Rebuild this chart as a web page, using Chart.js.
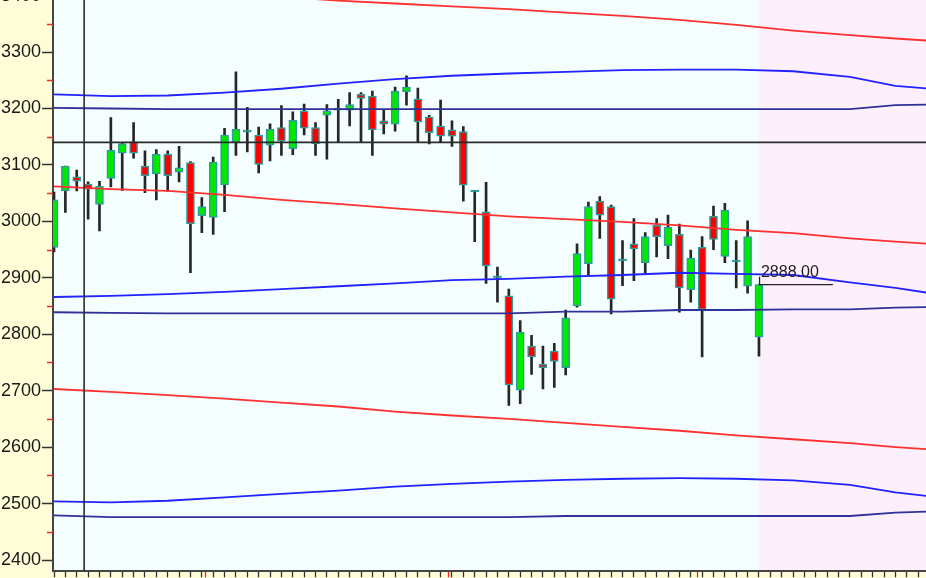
<!DOCTYPE html>
<html>
<head>
<meta charset="utf-8">
<script src="https://cdn.jsdelivr.net/npm/chart.js@4.4.1/dist/chart.umd.min.js"></script>
<style>
  html, body { margin: 0; padding: 0; background: #fffdd8; overflow: hidden; width: 926px; height: 578px; }
  #wrap { position: absolute; left: 0; top: -24px; width: 926px; height: 610px; }
</style>
</head>
<body>
<div id="wrap"><canvas id="chart" width="926" height="610"></canvas></div>
<script>
// === DONNEES BOUGIES ===
const opens  = [2954, 3054, 3079, 3066, 3030, 3076, 3121, 3141, 3098, 3084, 3119, 3087, 3104,
                3010, 3007, 3065, 3140, 3158, 3153, 3135, 3166, 3129, 3196, 3166, 3188, 3197,
                3197, 3225, 3222, 3178, 3172, 3230, 3217, 3185, 3169, 3162, 3159, 3052, 3017,
                2900, 2868, 2701, 2779, 2747, 2770, 2741, 2850, 2925, 3036, 3026, 2930, 2960,
                2927, 2993, 2957, 2977, 2879, 2954, 3009, 2938, 2928, 2885, 2795];
const highs  = [3052, 3098, 3091, 3070, 3071, 3184, 3140, 3175, 3125, 3127, 3125, 3133, 3106,
                3042, 3114, 3165, 3265, 3202, 3167, 3173, 3205, 3194, 3208, 3175, 3207, 3216,
                3228, 3228, 3231, 3197, 3238, 3258, 3236, 3188, 3215, 3178, 3168, 3055, 3069,
                2919, 2880, 2824, 2798, 2779, 2784, 2843, 2960, 3034, 3044, 3029, 2966, 3005,
                2980, 3005, 3011, 2995, 2949, 2973, 3027, 3032, 2966, 3001, 2888];
const lows   = [2946, 3016, 3054, 3004, 2983, 3061, 3055, 3112, 3051, 3038, 3053, 3070, 2909,
                2980, 2977, 3017, 3117, 3123, 3086, 3107, 3117, 3118, 3153, 3117, 3110, 3141,
                3169, 3141, 3117, 3155, 3160, 3206, 3141, 3137, 3141, 3133, 3036, 2964, 2890,
                2857, 2674, 2677, 2729, 2703, 2706, 2728, 2848, 2905, 2970, 2836, 2886, 2895,
                2908, 2937, 2934, 2839, 2857, 2760, 2950, 2927, 2882, 2873, 2761];
const closes = [3038, 3098, 3071, 3057, 3062, 3126, 3138, 3121, 3081, 3119, 3081, 3095, 2996,
                3026, 3105, 3153, 3163, 3158, 3101, 3163, 3142, 3179, 3165, 3137, 3196, 3197,
                3207, 3218, 3162, 3172, 3231, 3238, 3176, 3157, 3151, 3151, 3064, 3052, 2921,
                2900, 2710, 2804, 2760, 2741, 2752, 2829, 2943, 3026, 3011, 2862, 2930, 2951,
                2973, 2973, 2990, 2882, 2935, 2844, 2968, 3020, 2928, 2973, 2888];
const lastClose = 2888;

// === BANDES (valeurs lues par index de bougie) ===
const bandX      = [0, 5, 10, 15, 20, 25, 30, 35, 40, 45, 50, 55, 60, 65, 70, 74, 77];
const upperRed   = [3420, 3415, 3410, 3404, 3398, 3391, 3386, 3381, 3376, 3370, 3364, 3357, 3348, 3338, 3330, 3324, 3320];
const upperBlue  = [3225, 3222, 3223, 3228, 3235, 3244, 3252, 3258, 3262, 3265, 3268, 3269, 3269, 3266, 3256, 3240, 3235];
const upperNavy  = [3201, 3200, 3199, 3199, 3199, 3199, 3199, 3199, 3199, 3199, 3199, 3199, 3199, 3199, 3199, 3206, 3207];
const midRed     = [3062, 3057, 3054, 3047, 3038, 3031, 3023, 3016, 3009, 3004, 2999, 2993, 2985, 2979, 2970, 2964, 2960];
const midBlue    = [2866, 2868, 2871, 2875, 2880, 2885, 2890, 2896, 2898, 2902, 2905, 2909, 2907, 2905, 2892, 2882, 2873];
const midNavy    = [2839, 2838, 2837, 2837, 2837, 2837, 2837, 2837, 2837, 2840, 2840, 2843, 2843, 2844, 2844, 2847, 2848];
const lowerRed   = [2703, 2698, 2692, 2686, 2679, 2672, 2663, 2656, 2650, 2643, 2636, 2629, 2621, 2614, 2607, 2600, 2596];
const lowerBlue  = [2504, 2502, 2505, 2511, 2517, 2523, 2530, 2535, 2539, 2542, 2544, 2545, 2544, 2541, 2533, 2520, 2513];
const lowerNavy  = [2479, 2476, 2476, 2476, 2476, 2476, 2476, 2476, 2476, 2478, 2478, 2478, 2478, 2478, 2478, 2484, 2486];

// === LIGNES ET AXES ===
const hLineLevel = 3140;
const vLineIdx = 2.65;
const futureFrom = 62;
const closeLineEnd = 68.5;
const yTicks = [2400, 2500, 2600, 2700, 2800, 2900, 3000, 3100, 3200, 3300, 3400];
const yMinor = [2450, 2550, 2650, 2750, 2850, 2950, 3050, 3150, 3250, 3350];
const xTicks = Array.from({length: 77}, (_, i) => i);
const xRedTicks = [13.3, 34.7, 56.6];
const xMin = -0.088, xMax = 76.69, yMin = 2380, yMax = 3400;

const GREEN = "#00e800", RED = "#ff0000", TEAL = "#2f9c9c";
const BLUE = "#2222ff", NAVY = "#30309a", REDLINE = "#ff3030";

const idx = closes.map((_, i) => i);
const bodyColors = idx.map(i => closes[i] > opens[i] ? GREEN : closes[i] < opens[i] ? RED : TEAL);

function band(values, color) {
  return {
    type: "line",
    data: bandX.map((x, i) => ({x, y: values[i]})),
    borderColor: color,
    borderWidth: 1.8,
    pointRadius: 0,
    tension: 0,
    order: 1
  };
}

const bgPlugin = {
  id: "bg",
  beforeDraw(chart) {
    const {ctx, chartArea: a, scales: {x}} = chart;
    ctx.save();
    ctx.fillStyle = "#fffdd8";
    ctx.fillRect(0, 0, chart.width, chart.height);
    ctx.fillStyle = "#f4fefe";
    ctx.fillRect(a.left, a.top, a.width, a.height);
    const fx = x.getPixelForValue(futureFrom);
    ctx.fillStyle = "#fdf0fc";
    ctx.fillRect(fx, a.top, a.right - fx, a.height);
    ctx.restore();
  },
  afterDatasetsDraw(chart) {
    const {ctx, scales: {x, y}} = chart;
    ctx.save();
    ctx.font = "16px 'Liberation Sans', Arial, sans-serif";
    ctx.fillStyle = "#222";
    ctx.textBaseline = "middle";
    ctx.fillText(lastClose.toFixed(2), x.getPixelForValue(futureFrom) + 2, y.getPixelForValue(lastClose) - 12);
    ctx.restore();
  },
  afterDraw(chart) {
    const {ctx, chartArea: a, scales: {y}} = chart;
    ctx.save();
    ctx.strokeStyle = "#e03030";
    ctx.lineWidth = 1.5;
    yMinor.forEach(v => {
      const py = Math.round(y.getPixelForValue(v)) + 0.5;
      ctx.beginPath();
      ctx.moveTo(a.left - 6, py);
      ctx.lineTo(a.left, py);
      ctx.stroke();
    });
    ctx.restore();
  }
};

new Chart(document.getElementById("chart"), {
  type: "bar",
  data: {
    datasets: [
      band(upperRed, REDLINE), band(upperBlue, BLUE), band(upperNavy, NAVY),
      band(midRed, REDLINE), band(midBlue, BLUE), band(midNavy, NAVY),
      band(lowerRed, REDLINE), band(lowerBlue, BLUE), band(lowerNavy, NAVY),
      {
        type: "line",
        data: [{x: xMin, y: hLineLevel}, {x: xMax, y: hLineLevel}],
        borderColor: "#2a2a2a", borderWidth: 1.8, pointRadius: 0, order: 0
      },
      {
        type: "line",
        data: [{x: vLineIdx, y: yMin}, {x: vLineIdx, y: yMax}],
        borderColor: "#2a2a2a", borderWidth: 1.6, pointRadius: 0, order: 0
      },
      {
        type: "line",
        data: [{x: futureFrom + 0.05, y: lastClose + 14}, {x: futureFrom + 0.05, y: lastClose}, {x: closeLineEnd, y: lastClose}],
        borderColor: "#222", borderWidth: 1.3, pointRadius: 0, order: 0
      },
      {
        data: idx.map(i => ({x: i, y: [opens[i], closes[i]]})),
        backgroundColor: bodyColors,
        borderColor: TEAL,
        borderWidth: 1.5,
        borderSkipped: false,
        barThickness: 8,
        minBarLength: 2,
        grouped: false,
        order: 2
      },
      {
        data: idx.map(i => ({x: i, y: [lows[i], highs[i]]})),
        backgroundColor: "#262626",
        barThickness: 2,
        grouped: false,
        order: 3
      }
    ]
  },
  options: {
    responsive: false,
    animation: false,
    layout: {padding: {top: 19.6, left: 0, right: 0, bottom: 0}},
    plugins: {legend: {display: false}, tooltip: {enabled: false}},
    scales: {
      x: {
        type: "linear",
        min: xMin, max: xMax,
        offset: false,
        afterBuildTicks: s => { s.ticks = xTicks.concat(xRedTicks).map(v => ({value: v})); },
        afterFit: s => { s.height = 14.7; },
        ticks: {display: false},
        grid: {
          offset: false,
          drawOnChartArea: false,
          tickLength: 6,
          tickWidth: 1.3,
          tickColor: c => xRedTicks.includes(c.tick && c.tick.value) ? "#ff2020" : "#333"
        },
        border: {color: "#444", width: 2}
      },
      y: {
        type: "linear",
        position: "left",
        min: yMin, max: yMax,
        afterBuildTicks: s => { s.ticks = yTicks.map(v => ({value: v})); },
        afterFit: s => { s.width = 53; },
        ticks: {
          callback: v => String(v),
          color: "#1a1a1a",
          padding: 1,
          font: {family: "'Liberation Sans', Arial, sans-serif", size: 18}
        },
        grid: {drawOnChartArea: false, tickLength: 11, tickWidth: 1.5, tickColor: "#333"},
        border: {color: "#444", width: 2}
      }
    }
  },
  plugins: [bgPlugin]
});
</script>
</body>
</html>
